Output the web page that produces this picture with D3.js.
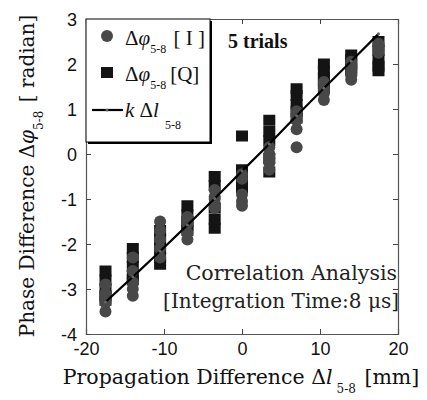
<!DOCTYPE html>
<html><head><meta charset="utf-8">
<script src="https://cdn.jsdelivr.net/npm/d3@7"></script>
<style>body{margin:0;background:#fff}svg{display:block}</style>
</head><body>
<script>
const xPositions = [-17.5,-14,-10.5,-7,-3.5,0,3.5,7,10.5,14,17.5];
const seriesI = [
  [-3.5,-3.3,-3.2,-3.1,-2.9],
  [-3.15,-3.0,-2.85,-2.6,-2.3],
  [-1.5,-1.7,-1.9,-2.1,-2.3],
  [-1.9,-1.75,-1.55,-1.45,-1.4],
  [-0.8,-0.95,-1.0,-1.1,-1.2],
  [-0.45,-0.55,-0.9,-1.05,-1.15],
  [0.15,0.0,-0.1,-0.2,-0.35],
  [0.15,0.55,0.75,0.85,0.95],
  [1.2,1.35,1.45,1.55,1.6],
  [1.65,1.75,1.85,1.95,2.05],
  [2.25,2.3,2.35,2.4,2.45]
];
const seriesQ = [
  [-2.6,-2.8,-3.0,-3.15,-3.25],
  [-2.1,-2.3,-2.5,-2.7,-2.8],
  [-1.7,-1.9,-2.1,-2.3,-2.45],
  [-1.15,-1.35,-1.5,-1.6,-1.7],
  [-0.5,-0.7,-1.2,-1.45,-1.65],
  [0.4,-0.35,-0.5,-0.6,-0.75],
  [0.75,0.5,0.3,-0.1,-0.4],
  [1.45,1.3,1.1,0.95,0.8],
  [2.0,1.85,1.7,1.6,1.45],
  [2.2,2.1,2.0,1.9,1.85],
  [2.5,2.3,2.1,1.95,1.85]
];
const fitLine = [-3.29,-2.73,-2.16,-1.58,-0.99,-0.38,0.22,0.85,1.46,2.06,2.67];
const xTicks = [-20,-10,0,10,20];
const yTicks = [-4,-3,-2,-1,0,1,2,3];

const W=427,H=400, m={l:86,r:29,t:19,b:66};
const svg=d3.select("body").append("svg").attr("width",W).attr("height",H);
const x=d3.scaleLinear().domain([-20,20]).range([m.l,W-m.r]);
const y=d3.scaleLinear().domain([-4,3]).range([H-m.b,m.t]);
const serif="'Liberation Serif','Times New Roman',serif";
const wide="'DejaVu Serif',serif";
const sans="'Liberation Sans',Arial,sans-serif";
const fmt=d=>String(d);

const gx=svg.append("g").attr("transform",`translate(0,${H-m.b})`)
  .call(d3.axisBottom(x).tickValues(xTicks).tickSize(-5).tickPadding(8).tickFormat(fmt));
const gxt=svg.append("g").attr("transform",`translate(0,${m.t})`)
  .call(d3.axisTop(x).tickValues(xTicks).tickSize(-5).tickFormat(""));
const gy=svg.append("g").attr("transform",`translate(${m.l},0)`)
  .call(d3.axisLeft(y).tickValues(yTicks).tickSize(-5).tickPadding(9).tickFormat(fmt));
const gyr=svg.append("g").attr("transform",`translate(${W-m.r},0)`)
  .call(d3.axisRight(y).tickValues(yTicks).tickSize(-5).tickFormat(""));
[gx,gxt,gy,gyr].forEach(g=>{g.select(".domain").attr("stroke","#555").attr("stroke-width",1.2);
  g.selectAll(".tick line").attr("stroke","#444");
  g.selectAll("text").attr("font-family",sans).attr("font-size",18).attr("fill","#111");});
gy.selectAll("text").attr("dy","0.35em");

const flat=(arr)=>arr.flatMap((col,i)=>col.map(v=>({x:xPositions[i],v})));
svg.append("g").selectAll("rect").data(flat(seriesQ)).join("rect")
  .attr("x",d=>x(d.x)-6).attr("y",d=>y(d.v)-5.5).attr("width",12).attr("height",11).attr("fill","#141414");
svg.append("g").selectAll("circle").data(flat(seriesI)).join("circle")
  .attr("cx",d=>x(d.x)).attr("cy",d=>y(d.v)).attr("r",6).attr("fill","#484848");

svg.append("path").datum(fitLine.map((v,i)=>[xPositions[i],v]))
  .attr("d",d3.line().x(d=>x(d[0])).y(d=>y(d[1]))).attr("fill","none").attr("stroke","#000").attr("stroke-width",2.2);
svg.append("g").selectAll("circle").data(fitLine.map((v,i)=>[xPositions[i],v])).join("circle")
  .attr("cx",d=>x(d[0])).attr("cy",d=>y(d[1])).attr("r",1.5).attr("fill","#666");

const lg=svg.append("g");
lg.append("rect").attr("x",m.l+2).attr("y",m.t+2).attr("width",124).attr("height",123).attr("fill","#000");
lg.append("rect").attr("x",m.l).attr("y",m.t).attr("width",124).attr("height",123).attr("fill","#fff").attr("stroke","#000").attr("stroke-width",1);
lg.append("circle").attr("cx",107).attr("cy",36).attr("r",6).attr("fill","#484848");
lg.append("rect").attr("x",101).attr("y",67).attr("width",12).attr("height",11).attr("fill","#141414");
lg.append("line").attr("x1",92).attr("x2",123).attr("y1",110).attr("y2",110).attr("stroke","#000").attr("stroke-width",2.2);
lg.append("circle").attr("cx",107).attr("cy",110).attr("r",1.5).attr("fill","#666");
function legText(yb, parts){
  const t=lg.append("text").attr("x",125).attr("y",yb).attr("font-family",serif).attr("font-size",21).attr("fill","#111");
  parts.forEach(p=>{const s=t.append("tspan").text(p.t);
    if(p.i) s.attr("font-style","italic");
    if(p.sub) s.attr("font-size",12).attr("dy",8); if(p.up) s.attr("dy",-8);
    if(p.dx) s.attr("dx",p.dx);});
}
legText(45,[{t:"Δ"},{t:"φ",i:1},{t:"5-8",sub:1},{t:" [ I ]",up:1,dx:2}]);
legText(81,[{t:"Δ"},{t:"φ",i:1},{t:"5-8",sub:1},{t:"[Q]",up:1,dx:4}]);
{const t=lg.append("text").attr("x",125).attr("y",117).attr("font-family",serif).attr("font-size",21).attr("fill","#111");
 t.append("tspan").text("k").attr("font-style","italic");
 t.append("tspan").text(" Δ");
 t.append("tspan").text("l").attr("font-style","italic");
 t.append("tspan").text("5-8").attr("font-size",12).attr("dy",12).attr("dx",6);}

svg.append("text").attr("x",228).attr("y",48).attr("font-family",serif).attr("font-size",20).attr("font-weight","600").attr("fill","#111").text("5 trials");
svg.append("text").attr("x",397).attr("y",280).attr("text-anchor","end").attr("font-family",wide).attr("font-size",20.5).attr("fill","#222").text("Correlation Analysis");
svg.append("text").attr("x",399).attr("y",308).attr("text-anchor","end").attr("font-family",wide).attr("font-size",20).attr("fill","#222").text("[Integration Time:8 μs]");

{const t=svg.append("text").attr("x",241).attr("y",384).attr("text-anchor","middle").attr("font-family",wide).attr("font-size",20.5).attr("fill","#111");
 t.append("tspan").text("Propagation Difference Δ");
 t.append("tspan").text("l").attr("font-style","italic");
 t.append("tspan").text("5-8").attr("font-size",12).attr("dy",9).attr("dx",4);
 t.append("tspan").text(" [mm]").attr("dy",-9).attr("dx",2);}
{const t=svg.append("text").attr("transform","translate(34,176) rotate(-90)").attr("text-anchor","middle").attr("font-family",wide).attr("font-size",20).attr("fill","#111");
 t.append("tspan").text("Phase Difference Δ");
 t.append("tspan").text("φ").attr("font-style","italic");
 t.append("tspan").text("5-8").attr("font-size",12).attr("dy",9);
 t.append("tspan").text(" [ radian]").attr("dy",-9).attr("dx",2);}
</script>
</body></html>
